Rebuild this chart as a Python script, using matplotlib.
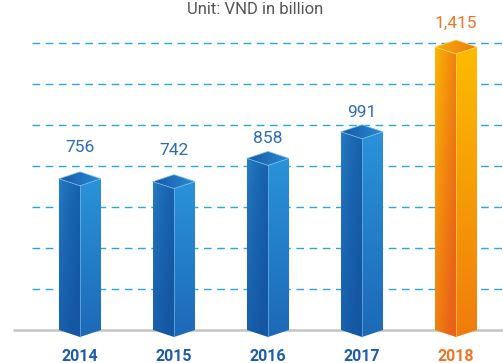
import numpy as np
import matplotlib
matplotlib.use("Agg")
import matplotlib.pyplot as plt
from matplotlib.patches import Polygon
from matplotlib.colors import to_rgb

# Revenue by year, VND billion
years = ["2014", "2015", "2016", "2017", "2018"]
values = [756, 742, 858, 991, 1415]
value_labels = ["756", "742", "858", "991", "1,415"]
highlight = [False, False, False, False, True]

# gap (in px) between the top edge of each box and its value label
label_gap_px = [27, 27, 15, 15, 19]

W, H, DPI = 503, 363, 100
PX_PER_UNIT = 0.2          # vertical pixels per VND billion
BASE_ROW = 330             # pixel row of the zero line
STEP_PX = 94               # horizontal distance between bars
FIRST_PX = 80              # centre of first bar

fig = plt.figure(figsize=(W / DPI, H / DPI), dpi=DPI)
ax = fig.add_axes([0, 0, 1, 1])
ax.set_axis_off()

def px_x(px):
    return (px - FIRST_PX) / STEP_PX

def px_y(row):
    return (BASE_ROW - row) / PX_PER_UNIT

xlim = (px_x(0), px_x(W))
ylim = (px_y(H), px_y(0))

half_w = 21 / STEP_PX
depth = 7 / PX_PER_UNIT

# dashed guide lines
grid_step = 41 / PX_PER_UNIT
for k in range(1, 8):
    ax.plot([px_x(32), xlim[1]], [k * grid_step] * 2, color="#27a6e0",
            lw=1.0, dashes=(5.5, 4), zorder=1, solid_capstyle="butt")

# zero line
ax.plot([px_x(13), xlim[1]], [0, 0], color="#c4c4c4", lw=1.8, zorder=1,
        solid_capstyle="butt")


def shaded(verts, c0, c1, direction, z, bias=1.0):
    """Fill polygon with a linear colour ramp from c0 to c1."""
    verts = np.asarray(verts)
    x0, y0 = verts.min(axis=0)
    x1, y1 = verts.max(axis=0)
    n = 120
    u, v = np.meshgrid(np.linspace(0, 1, n), np.linspace(0, 1, n))
    # v=0 bottom, v=1 top (origin lower)
    if direction == "down":
        t = 1 - v
    elif direction == "right":
        t = u
    else:  # diagonal: top-left to bottom-right
        t = np.clip(0.6 * (1 - v) + 0.6 * u, 0, 1)
    t = t ** bias
    a, b = np.array(to_rgb(c0)), np.array(to_rgb(c1))
    img = a[None, None, :] * (1 - t[..., None]) + b[None, None, :] * t[..., None]
    patch = Polygon(verts, closed=True, facecolor="none", edgecolor="none",
                    zorder=z)
    ax.add_patch(patch)
    im = ax.imshow(img, extent=(x0, x1, y0, y1), origin="lower",
                   aspect="auto", interpolation="bilinear", zorder=z)
    im.set_clip_path(patch)


palettes = {
    False: dict(left=("#2a88d0", "#1457a3"), right=("#2a93d9", "#1d69b7"),
                top=("#1759a6", "#2a8ad3"), edge="#7cc0ef",
                label="#2d6db8", year="#1d5ca8", lbias=0.45),
    True: dict(left=("#fcbd00", "#ea6418"), right=("#fdbb00", "#f07c0c"),
               top=("#f7ad06", "#ee7a12"), edge="#ffd46a",
               label="#ef7424", year="#ef7424", lbias=0.8),
}

for i, (yr, val, lab, hi, gap) in enumerate(
        zip(years, values, value_labels, highlight, label_gap_px)):
    p = palettes[hi]
    c = i
    l, r = c - half_w, c + half_w
    left = [(l, 0), (l, val), (c, val - depth), (c, -depth)]
    right = [(c, -depth), (c, val - depth), (r, val), (r, 0)]
    top = [(l, val), (c, val + depth), (r, val), (c, val - depth)]
    shaded(left, *p["left"], "diag", 3, bias=p["lbias"])
    shaded(right, *p["right"], "down", 3)
    shaded(top, *p["top"], "right", 3)
    # highlight edges
    ax.plot([c, c], [-depth, val - depth], color=p["edge"], lw=0.6,
            alpha=0.7, zorder=4)
    ax.plot([l, c, r, c, l], [val, val + depth, val, val - depth, val],
            color=p["edge"], lw=0.6, alpha=0.8, zorder=4)

    ax.text(c, val + gap / PX_PER_UNIT, lab, ha="center", va="baseline",
            fontsize=12.5, color=p["label"], family="Roboto", zorder=5)
    ax.text(c, px_y(361), yr, ha="center", va="baseline", fontsize=11.5,
            fontweight="bold", color=p["year"], family="Roboto", zorder=5)

ax.text(px_x(255), px_y(14), "Unit: VND in billion", ha="center",
        va="baseline", fontsize=12, color="#555555", family="Roboto")

ax.set_xlim(*xlim)
ax.set_ylim(*ylim)

fig.savefig("out.png", dpi=DPI)
